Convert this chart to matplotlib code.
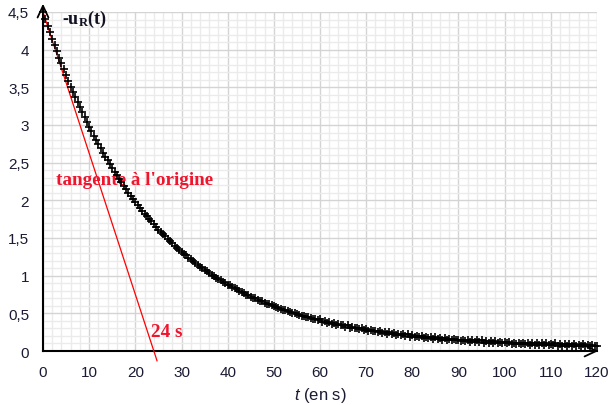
import matplotlib
matplotlib.use('Agg')
import matplotlib.pyplot as plt
from matplotlib.ticker import MultipleLocator, FuncFormatter

plt.rcParams['mathtext.fontset'] = 'custom'
plt.rcParams['mathtext.rm'] = 'Liberation Sans'
plt.rcParams['mathtext.it'] = 'Liberation Sans:italic'
plt.rcParams['mathtext.bf'] = 'Liberation Serif:bold'

# sampled voltage -u_R(t), one value every 0.5 s from t = 0 to 120 s
t_step = 0.5
u_values = [
    4.50, 4.41, 4.32, 4.23, 4.14, 4.06, 3.98, 3.89, 3.82, 3.74,
    3.66, 3.59, 3.51, 3.44, 3.37, 3.30, 3.24, 3.17, 3.11, 3.04,
    2.98, 2.92, 2.86, 2.80, 2.75, 2.69, 2.63, 2.58, 2.53, 2.48,
    2.43, 2.38, 2.33, 2.28, 2.24, 2.19, 2.15, 2.10, 2.06, 2.02,
    1.98, 1.94, 1.90, 1.86, 1.82, 1.79, 1.75, 1.72, 1.68, 1.65,
    1.61, 1.58, 1.55, 1.52, 1.49, 1.46, 1.43, 1.40, 1.37, 1.34,
    1.32, 1.29, 1.27, 1.24, 1.22, 1.19, 1.17, 1.14, 1.12, 1.10,
    1.08, 1.06, 1.04, 1.01, 0.99, 0.97, 0.96, 0.94, 0.92, 0.90,
    0.88, 0.87, 0.85, 0.83, 0.82, 0.80, 0.78, 0.77, 0.75, 0.74,
    0.72, 0.71, 0.70, 0.68, 0.67, 0.66, 0.64, 0.63, 0.62, 0.61,
    0.60, 0.58, 0.57, 0.56, 0.55, 0.54, 0.53, 0.52, 0.51, 0.50,
    0.49, 0.48, 0.47, 0.46, 0.45, 0.45, 0.44, 0.43, 0.42, 0.41,
    0.42, 0.39, 0.40, 0.37, 0.39, 0.36, 0.37, 0.35, 0.36, 0.34,
    0.35, 0.32, 0.34, 0.31, 0.32, 0.30, 0.31, 0.29, 0.30, 0.28,
    0.29, 0.27, 0.28, 0.26, 0.27, 0.25, 0.27, 0.24, 0.25, 0.23,
    0.25, 0.22, 0.24, 0.21, 0.23, 0.21, 0.22, 0.20, 0.22, 0.19,
    0.21, 0.19, 0.20, 0.18, 0.20, 0.17, 0.19, 0.17, 0.18, 0.16,
    0.18, 0.16, 0.17, 0.15, 0.17, 0.15, 0.16, 0.14, 0.16, 0.14,
    0.15, 0.13, 0.15, 0.13, 0.14, 0.12, 0.14, 0.12, 0.14, 0.12,
    0.14, 0.11, 0.13, 0.11, 0.13, 0.11, 0.13, 0.10, 0.12, 0.10,
    0.12, 0.10, 0.12, 0.09, 0.11, 0.09, 0.11, 0.09, 0.11, 0.09,
    0.10, 0.08, 0.11, 0.08, 0.10, 0.08, 0.10, 0.08, 0.10, 0.08,
    0.09, 0.08, 0.10, 0.07, 0.09, 0.07, 0.09, 0.07, 0.09, 0.07,
    0.09, 0.06, 0.08, 0.07, 0.09, 0.06, 0.08, 0.07, 0.08, 0.06,
    0.07,
]
t_values = [i * t_step for i in range(len(u_values))]

# tangent at the origin: from (0, 4.5) crossing zero at tau = 24 s
tangent_t = [0.0, 24.7]
tangent_u = [4.5, -0.13]

x_ticks_major, x_ticks_minor = 10, 2
y_ticks_major, y_ticks_minor = 0.5, 0.1

fig = plt.figure(figsize=(6.13, 4.06), dpi=100)
ax = fig.add_axes([43 / 613, 1 - 352 / 406, (597 - 43) / 613, (352 - 13) / 406])
ax.set_xlim(0, 120)
ax.set_ylim(0, 4.5)

ax.xaxis.set_major_locator(MultipleLocator(x_ticks_major))
ax.xaxis.set_minor_locator(MultipleLocator(x_ticks_minor))
ax.yaxis.set_major_locator(MultipleLocator(y_ticks_major))
ax.yaxis.set_minor_locator(MultipleLocator(y_ticks_minor))
fmt = FuncFormatter(lambda v, p: f'{v:g}'.replace('.', ','))
ax.xaxis.set_major_formatter(fmt)
ax.yaxis.set_major_formatter(fmt)

ax.set_axisbelow(True)
ax.grid(which='minor', color='#ebebeb', lw=1.0)
ax.grid(which='major', color='#d4d4d4', lw=1.0)
ax.tick_params(which='both', length=0)
ax.tick_params(which='major', pad=10, labelsize=11, labelcolor='#1a1a33')
for lab in ax.get_xticklabels() + ax.get_yticklabels():
    lab.set_fontfamily('Liberation Sans')

for s in ['top', 'right']:
    ax.spines[s].set_visible(False)
for s in ['left', 'bottom']:
    ax.spines[s].set_color('black')
    ax.spines[s].set_linewidth(1.5)

arrow_kw = dict(arrowstyle='->,head_length=0.6,head_width=0.28', color='black',
                lw=1.3, mutation_scale=14, shrinkA=0, shrinkB=0)
ax.annotate('', xy=(0, 4.61), xytext=(0, 4.3), arrowprops=arrow_kw,
            annotation_clip=False)
ax.annotate('', xy=(120.3, 0), xytext=(115, 0), arrowprops=arrow_kw,
            annotation_clip=False)

ax.plot(tangent_t, tangent_u, color='#ff0000', lw=0.9, clip_on=False, zorder=3)
ax.plot(t_values, u_values, linestyle='none', marker='+', ms=6.2, mew=1.2,
        color='black', clip_on=False, zorder=4)

ax.text(4.1, 4.41, '$\\mathbf{\u2010u_R(t)}$', fontsize=13, color='#111122',
        ha='left', va='center')
ax.text(2.8, 2.28, "tangente à l'origine", fontsize=13.8, fontweight='bold',
        family='Liberation Serif', color='#f0142d', ha='left', va='center')
ax.text(23.4, 0.26, '24 s', fontsize=13.8, fontweight='bold',
        family='Liberation Serif', color='#f0142d', ha='left', va='center')

fig.text(320 / 613, 1 - 396 / 406, r'$t$ (en s)', fontsize=12,
         family='Liberation Sans', color='#1a1a33', ha='center', va='center')
fig.text(2 / 613, 1 - 178 / 406, r'u$_R$ (en V)', fontsize=11, rotation=90,
         family='Liberation Sans', color='#1a1a33', ha='right', va='center')

fig.savefig('out.png', dpi=100)
